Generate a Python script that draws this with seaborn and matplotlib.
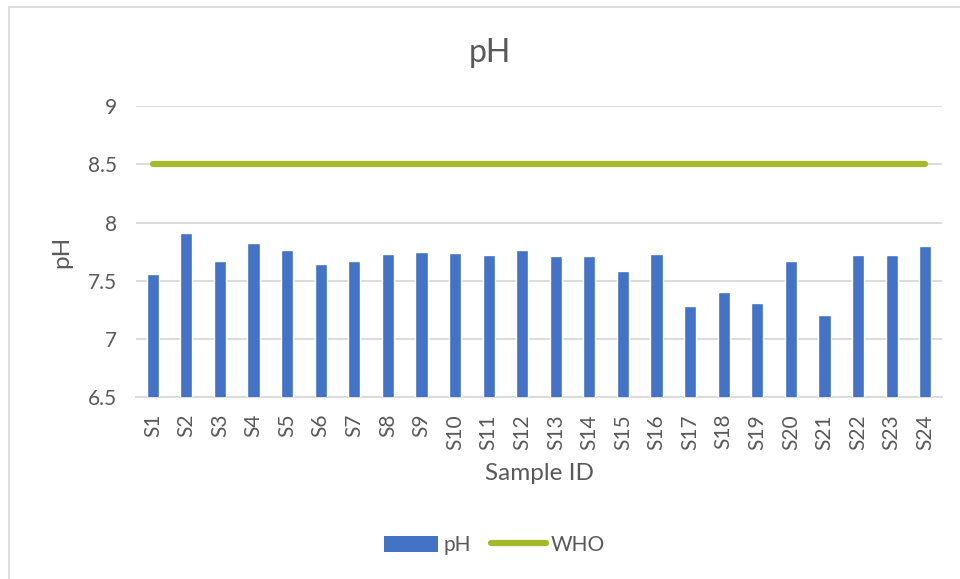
import pandas as pd
import matplotlib
matplotlib.use("Agg")
import matplotlib.pyplot as plt
from matplotlib.patches import Rectangle, Patch
from matplotlib.lines import Line2D
import seaborn as sns

# Data
samples = [f"S{i}" for i in range(1, 25)]
ph_values = [7.56, 7.91, 7.67, 7.82, 7.76, 7.64, 7.67, 7.73, 7.75, 7.74, 7.72, 7.76,
             7.71, 7.71, 7.58, 7.73, 7.28, 7.40, 7.31, 7.67, 7.21, 7.72, 7.72, 7.80]
who_limit = [8.5] * len(samples)
y_ticks = [6.5, 7, 7.5, 8, 8.5, 9]
y_tick_labels = ["6.5", "7", "7.5", "8", "8.5", "9"]

BAR_COLOR = "#4472C4"
LINE_COLOR = "#A5B92B"
GRID_COLOR = "#D9D9D9"
TEXT_COLOR = "#595959"

sns.set_style("white")
plt.rcParams["font.family"] = ["Lato", "DejaVu Sans"]

df = pd.DataFrame({"sample": samples, "pH": ph_values, "WHO": who_limit})

fig = plt.figure(figsize=(9.6, 5.79), dpi=100)
ax = fig.add_axes([136 / 960, 1 - 397.3 / 579, (942 - 136) / 960, (397.3 - 106) / 579])

# light outer chart border
fig.patches.append(Rectangle((9 / 960, -0.05), 1.1, 1 - 7 / 579 + 0.05,
                             transform=fig.transFigure, fill=False,
                             edgecolor=GRID_COLOR, linewidth=1.2, zorder=0))

sns.barplot(data=df, x="sample", y="pH", color=BAR_COLOR, width=0.36,
            saturation=1, ax=ax, zorder=3)
sns.lineplot(x=range(len(samples)), y=df["WHO"], color=LINE_COLOR, linewidth=4.5,
             solid_capstyle="round", ax=ax, zorder=4)

ax.set_ylim(6.5, 9)
ax.set_xlim(-0.5, len(samples) - 0.5)
ax.set_yticks(y_ticks)
ax.set_yticklabels(y_tick_labels)
ax.yaxis.grid(True, color=GRID_COLOR, linewidth=1.3, zorder=0)
ax.set_axisbelow(True)
for side in ["top", "right", "left"]:
    ax.spines[side].set_visible(False)
ax.spines["bottom"].set_color(GRID_COLOR)
ax.spines["bottom"].set_linewidth(1.3)

ax.tick_params(axis="x", labelrotation=90, labelsize=15, colors=TEXT_COLOR,
               length=0, pad=12)
ax.tick_params(axis="y", labelsize=15, colors=TEXT_COLOR, length=0, pad=14)

ax.set_xlabel("Sample ID", fontsize=17.5, color=TEXT_COLOR, labelpad=10)
ax.set_ylabel("pH", fontsize=17.5, color=TEXT_COLOR, labelpad=11)
fig.text(0.51, 1 - 53 / 579, "pH", ha="center", va="center", fontsize=23,
         color=TEXT_COLOR)

handles = [Patch(facecolor=BAR_COLOR, edgecolor="none", label="pH"),
           Line2D([0], [0], color=LINE_COLOR, linewidth=4.5,
                  solid_capstyle="round", label="WHO")]
fig.legend(handles=handles, loc="center", bbox_to_anchor=(0.515, 1 - 545 / 579),
           ncol=2, frameon=False, fontsize=15, labelcolor=TEXT_COLOR,
           handlelength=2.6, handleheight=0.8, handletextpad=0.25,
           columnspacing=1.0)

fig.savefig("out.png", dpi=100)
